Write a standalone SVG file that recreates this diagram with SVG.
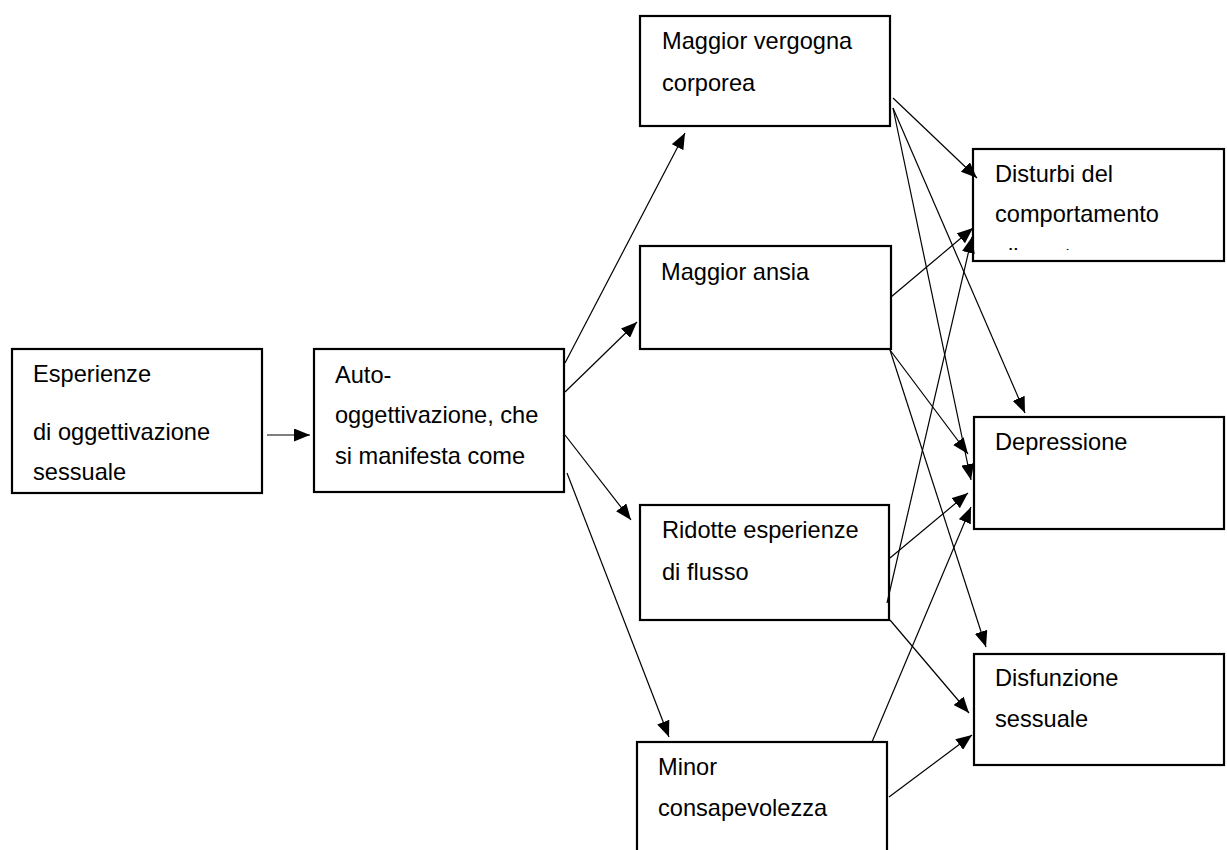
<svg xmlns="http://www.w3.org/2000/svg" width="1227" height="850" viewBox="0 0 1227 850">
<style>
.box{fill:#fff;stroke:#000;stroke-width:2.2}
.t{font-family:"Liberation Sans",Arial,sans-serif;font-size:23.6px;fill:#000}
.c{stroke:#000;stroke-width:1.2;fill:none;marker-end:url(#ah)}
</style>
<defs>
<marker id="ah" markerUnits="userSpaceOnUse" markerWidth="17" markerHeight="13" refX="16" refY="6.5" orient="auto">
<path d="M0,0 L16,6.5 L0,13 z" fill="#000"/>
</marker>
<clipPath id="clipDist"><rect x="974" y="150" width="249" height="100"/></clipPath>
</defs>
<rect width="1227" height="850" fill="#fff"/>
<g id="n1"><rect class="box" x="12" y="349" width="250" height="144"/>
<text class="t" x="33" y="382">Esperienze</text>
<text class="t" x="33" y="440">di oggettivazione</text>
<text class="t" x="33" y="480">sessuale</text></g>
<g id="n2"><rect class="box" x="314" y="349" width="250" height="143"/>
<text class="t" x="335" y="383">Auto-</text>
<text class="t" x="335" y="423">oggettivazione, che</text>
<text class="t" x="335" y="464">si manifesta come</text></g>
<g id="n3"><rect class="box" x="640" y="16" width="250" height="110"/>
<text class="t" x="662" y="49">Maggior vergogna</text>
<text class="t" x="662" y="91">corporea</text></g>
<g id="n4"><rect class="box" x="640" y="246" width="251" height="103"/>
<text class="t" x="661" y="280">Maggior ansia</text></g>
<g id="n5"><rect class="box" x="640" y="505" width="249" height="115"/>
<text class="t" x="662" y="538">Ridotte esperienze</text>
<text class="t" x="662" y="580">di flusso</text></g>
<g id="n6"><rect class="box" x="637" y="742" width="250" height="120"/>
<text class="t" x="658" y="775">Minor</text>
<text class="t" x="658" y="816">consapevolezza</text></g>
<g id="n7"><rect class="box" x="973" y="149" width="251" height="112"/>
<text class="t" x="995" y="182">Disturbi del</text>
<text class="t" x="995" y="222">comportamento</text>
<text class="t" x="995" y="265" clip-path="url(#clipDist)">alimentare</text></g>
<g id="n8"><rect class="box" x="974" y="417" width="250" height="112"/>
<text class="t" x="995" y="450">Depressione</text></g>
<g id="n9"><rect class="box" x="974" y="654" width="250" height="111"/>
<text class="t" x="995" y="686">Disfunzione</text>
<text class="t" x="995" y="727">sessuale</text></g>
<g id="connectors">
<line class="c" x1="267" y1="435" x2="310" y2="435"/>
<line class="c" x1="565" y1="363" x2="685" y2="133"/>
<line class="c" x1="565" y1="392" x2="637" y2="322"/>
<line class="c" x1="565" y1="435" x2="631" y2="520"/>
<line class="c" x1="567" y1="473" x2="669" y2="737"/>
<line class="c" x1="893" y1="98" x2="977" y2="178"/>
<line class="c" x1="893" y1="108" x2="1025" y2="413"/>
<line class="c" x1="893" y1="108" x2="971" y2="480"/>
<line class="c" x1="891" y1="297" x2="973" y2="228"/>
<line class="c" x1="890" y1="350" x2="968" y2="454"/>
<line class="c" x1="890" y1="350" x2="986" y2="647"/>
<line class="c" x1="887" y1="603" x2="972" y2="237"/>
<line class="c" x1="890" y1="558" x2="968" y2="493"/>
<line class="c" x1="890" y1="620" x2="969" y2="713"/>
<line class="c" x1="872" y1="742" x2="971" y2="507"/>
<line class="c" x1="889" y1="797" x2="972" y2="735"/>
</g>
</svg>
